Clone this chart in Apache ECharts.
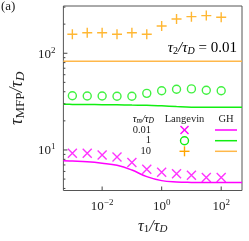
<!DOCTYPE html>
<html><head><meta charset="utf-8">
<script src="https://cdn.jsdelivr.net/npm/echarts@6/dist/echarts.min.js"></script>
<style>html,body{margin:0;padding:0;background:#fff}#c{width:249px;height:241px}</style>
</head><body><div id="c"></div>
<script>
// ---- data ----
const tau1 = [0.001, 0.00316, 0.01, 0.0316, 0.1, 0.316, 1, 3.16, 10, 31.6, 100];
const tauRatios = ['0.01', '1', '10'];
const langevin001 = [9.24, 9.24, 8.88, 8.47, 7.43, 6.33, 5.89, 5.69, 5.47, 5.20, 5.20];
const langevin1 = [36.4, 36.1, 36.1, 35.9, 35.9, 38.5, 41.0, 42.4, 42.8, 41.4, 41.0];
const langevin10 = [157, 163, 163, 157, 163, 157, 191, 226, 239, 245, 236];
const tau1GH = [0.0005, 0.001, 0.00316, 0.01, 0.0316, 0.1, 0.316, 1, 3.16, 10, 31.6, 100, 500];
const gh001 = [7.75, 7.68, 7.55, 7.3, 6.95, 6.2, 5.3, 4.82, 4.67, 4.62, 4.6, 4.6, 4.6];
const gh1 = [29.7, 29.6, 29.5, 29.4, 29.3, 29.1, 29.0, 28.6, 28.1, 27.7, 27.6, 27.6, 27.6];
const gh10 = [82.5, 82.5, 82.5, 82.5, 82.5, 82.5, 82.5, 82.5, 82.5, 82.5, 82.5, 82.5, 82.5];
const xMajorTicks = [0.01, 1, 100];
const yMajorTicks = [10, 100];
const yMinorTicks = [4, 5, 6, 7, 8, 9, 20, 30, 40, 50, 60, 70, 80, 90, 200, 300];
const xMin = 5e-4, xMax = 500, yMin = 3.81, yMax = 308;

// ---- styling ----
const FONT = '"Liberation Serif", "DejaVu Serif", serif';
const TXT = '#222';
const MAGENTA = '#ff00ff', GREEN = '#11ee11', ORANGE = '#ffa500';
const GH_ORANGE = '#ffb84a';

function pairs(xs, ys) { return xs.map((x, i) => [x, ys[i]]); }
function expLabel(v, onlyEven) {
  const e = Math.log10(v), r = Math.round(e);
  if (Math.abs(e - r) > 1e-6) return '';
  if (onlyEven && r % 2 !== 0) return '';
  return '{b|10}{s|' + (r < 0 ? '\u2212' + (-r) : r) + '}';
}
const labelRich = {
  b: { fontFamily: FONT, fontSize: 13, color: TXT, verticalAlign: 'bottom' },
  s: { fontFamily: FONT, fontSize: 9, color: TXT, verticalAlign: 'top', padding: [0, 0, 6, 0] }
};

const tickData = [];
xMajorTicks.forEach(x => tickData.push([x, yMin, 0, 4]));
yMajorTicks.forEach(y => tickData.push([xMin, y, 1, 4]));
yMinorTicks.forEach(y => tickData.push([xMin, y, 1, 2]));

const crossPath = 'path://M0,0L10,10M10,0L0,10';
const plusPath = 'path://M5,0L5,10M0,5L10,5';

const chart = echarts.init(document.getElementById('c'), null, { renderer: 'canvas' });

const legendRich = {
  t: { fontFamily: FONT, fontSize: 10.5, fontStyle: 'italic', color: TXT },
  u: { fontFamily: FONT, fontSize: 7.5, fontStyle: 'italic', color: TXT, verticalAlign: 'bottom', padding: [4, 0, 0, 0] }
};
const rowY = [130, 140.7, 151.3];
const legendEls = [
  { type: 'text', style: { text: '{t|τ}{u|m}{t|/τ}{u|D}', rich: legendRich, x: 154, y: 119, align: 'right', verticalAlign: 'middle' } },
  { type: 'text', style: { text: 'Langevin', font: '10.5px ' + FONT, fill: TXT, x: 184.5, y: 119, align: 'center', verticalAlign: 'middle' } },
  { type: 'text', style: { text: 'GH', font: '10.5px ' + FONT, fill: TXT, x: 226, y: 119, align: 'center', verticalAlign: 'middle' } }
];
const legColors = [MAGENTA, GREEN, ORANGE];
const ghColors = [MAGENTA, GREEN, GH_ORANGE];
tauRatios.forEach((lab, i) => {
  const y = rowY[i];
  legendEls.push({ type: 'text', style: { text: lab, font: '10.5px ' + FONT, fill: TXT, x: 151, y: y, align: 'right', verticalAlign: 'middle' } });
  const c = legColors[i];
  if (i === 0) {
    legendEls.push({ type: 'line', shape: { x1: 180.5, y1: y - 4, x2: 188.5, y2: y + 4 }, style: { stroke: c, lineWidth: 1.4 } });
    legendEls.push({ type: 'line', shape: { x1: 188.5, y1: y - 4, x2: 180.5, y2: y + 4 }, style: { stroke: c, lineWidth: 1.4 } });
  } else if (i === 1) {
    legendEls.push({ type: 'circle', shape: { cx: 184.5, cy: y, r: 4 }, style: { stroke: c, fill: 'none', lineWidth: 1.4 } });
  } else {
    legendEls.push({ type: 'line', shape: { x1: 184.5, y1: y - 5, x2: 184.5, y2: y + 5 }, style: { stroke: c, lineWidth: 1.4 } });
    legendEls.push({ type: 'line', shape: { x1: 179.5, y1: y, x2: 189.5, y2: y }, style: { stroke: c, lineWidth: 1.4 } });
  }
  legendEls.push({ type: 'line', shape: { x1: 215, y1: y, x2: 237, y2: y }, style: { stroke: ghColors[i], lineWidth: 1.5 } });
});

const annRich = {
  t: { fontFamily: FONT, fontSize: 15, fontStyle: 'italic', color: TXT },
  u: { fontFamily: FONT, fontSize: 10, color: TXT, verticalAlign: 'bottom', padding: [6, 0, 0, 0] },
  d: { fontFamily: FONT, fontSize: 10, fontStyle: 'italic', color: TXT, verticalAlign: 'bottom', padding: [6, 0, 0, 0] },
  n: { fontFamily: FONT, fontSize: 15, color: TXT }
};

chart.setOption({
  animation: false,
  backgroundColor: '#fff',
  grid: { left: 52, right: 7, top: 6, bottom: 50.5, show: true, borderColor: '#555', borderWidth: 1, backgroundColor: 'transparent', containLabel: false },
  xAxis: {
    type: 'log', logBase: 10, min: xMin, max: xMax,
    axisLine: { show: false }, axisTick: { show: false }, splitLine: { show: false },
    axisLabel: { margin: 8, showMinLabel: false, showMaxLabel: false, formatter: v => expLabel(v, true), rich: labelRich },
    name: '{t|τ}{u|1}{t|/τ}{d|D}', nameLocation: 'middle', nameGap: 27,
    nameTextStyle: { rich: {
      t: { fontFamily: FONT, fontSize: 16, fontStyle: 'italic', color: TXT },
      u: { fontFamily: FONT, fontSize: 11, color: TXT, verticalAlign: 'bottom', padding: [6, 0, 0, 0] },
      d: { fontFamily: FONT, fontSize: 11, fontStyle: 'italic', color: TXT, verticalAlign: 'bottom', padding: [6, 0, 0, 0] }
    } }
  },
  yAxis: {
    type: 'log', logBase: 10, min: yMin, max: yMax,
    axisLine: { show: false }, axisTick: { show: false }, splitLine: { show: false },
    axisLabel: { margin: 8, showMinLabel: false, showMaxLabel: false, formatter: v => expLabel(v, false), rich: labelRich },
    name: '{t|τ}{u|MFP}{t|/τ}{d|D}', nameLocation: 'middle', nameGap: 31, nameRotate: 90,
    nameTextStyle: { rich: {
      t: { fontFamily: FONT, fontSize: 18, fontStyle: 'italic', color: TXT },
      u: { fontFamily: FONT, fontSize: 13, color: TXT, verticalAlign: 'bottom', padding: [7, 0, 0, 0] },
      d: { fontFamily: FONT, fontSize: 13, fontStyle: 'italic', color: TXT, verticalAlign: 'bottom', padding: [7, 0, 0, 0] }
    } }
  },
  series: [
    { type: 'line', data: pairs(tau1GH, gh001), smooth: 0.4, showSymbol: false, lineStyle: { color: MAGENTA, width: 1.5 }, z: 2 },
    { type: 'line', data: pairs(tau1GH, gh1), smooth: 0.4, showSymbol: false, lineStyle: { color: GREEN, width: 1.5 }, z: 2 },
    { type: 'line', data: pairs(tau1GH, gh10), smooth: 0.4, showSymbol: false, lineStyle: { color: GH_ORANGE, width: 1.5 }, z: 2 },
    { type: 'scatter', data: pairs(tau1, langevin001), symbol: crossPath, symbolSize: 9,
      itemStyle: { color: 'none', borderColor: MAGENTA, borderWidth: 1.4 }, z: 3 },
    { type: 'scatter', data: pairs(tau1, langevin1), symbol: 'circle', symbolSize: 8,
      itemStyle: { color: 'rgba(0,0,0,0)', borderColor: GREEN, borderWidth: 1.4 }, z: 3 },
    { type: 'scatter', data: pairs(tau1, langevin10), symbol: plusPath, symbolSize: 10,
      itemStyle: { color: 'none', borderColor: ORANGE, borderWidth: 1.4 }, z: 3 },
    { type: 'custom', data: tickData, silent: true, z: 4,
      renderItem: function (params, api) {
        const p = api.coord([api.value(0), api.value(1)]);
        const dir = api.value(2), len = api.value(3);
        const shape = dir === 0
          ? { x1: p[0], y1: p[1], x2: p[0], y2: p[1] - len }
          : { x1: p[0], y1: p[1], x2: p[0] + len, y2: p[1] };
        return { type: 'line', shape: shape, style: { stroke: '#444', lineWidth: 1 } };
      } }
  ],
  graphic: [
    { type: 'text', style: { text: '(a)', font: '13px ' + FONT, fill: TXT, x: 1, y: 0, align: 'left', verticalAlign: 'top' } },
    { type: 'text', style: { text: '{t|τ}{u|2}{t|/τ}{d|D}{n| = 0.01}', rich: annRich, x: 237, y: 48, align: 'right', verticalAlign: 'middle' } }
  ].concat(legendEls)
});
</script>
</body></html>
